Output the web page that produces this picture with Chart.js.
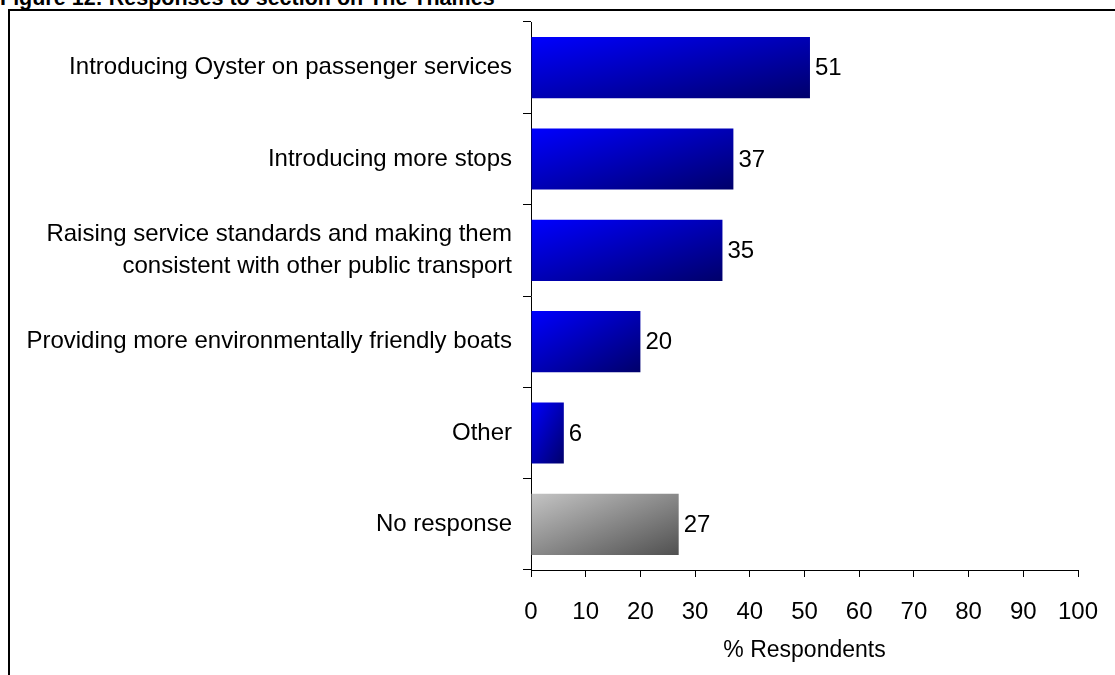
<!DOCTYPE html>
<html>
<head>
<meta charset="utf-8">
<script src="https://cdn.jsdelivr.net/npm/chart.js@4.4.1/dist/chart.umd.min.js"></script>
<style>
    html, body {
        margin: 0;
        padding: 0;
        width: 1115px;
        height: 675px;
        overflow: hidden;
        background: #ffffff;
        font-family: Arial, 'Liberation Sans', sans-serif;
    }
    #title {
        position: absolute;
        left: 0;
        top: -14px;
        font-size: 21.5px;
        font-weight: bold;
        line-height: 24px;
        white-space: nowrap;
        color: #000;
    }
    #frame {
        position: absolute;
        left: 8px;
        top: 9px;
        width: 1200px;
        height: 800px;
        border: 2.5px solid #000;
        box-sizing: border-box;
    }
    #wrap {
        position: absolute;
        left: 0;
        top: 0;
        width: 1115px;
        height: 675px;
    }
</style>
</head>
<body>
<div id="title">Figure 12: Responses to section on The Thames</div>
<div id="frame"></div>
<div id="wrap"><canvas id="chart"></canvas></div>
<script>
const FONT = "Arial, 'Liberation Sans', sans-serif";

const categories = [
    'Introducing Oyster on passenger services',
    'Introducing more stops',
    ['Raising service standards and making them', 'consistent with other public transport'],
    'Providing more environmentally friendly boats',
    'Other',
    'No response'
];
const respondents = [51, 37, 35, 20, 6, 27];
const xTicks = [0, 10, 20, 30, 40, 50, 60, 70, 80, 90, 100];

const BAR_FRACTION = 0.67;

// Excel-style diagonal fill: light top-left to dark bottom-right
function diagonalFill(context) {
    const chart = context.chart;
    const xScale = chart.scales.x;
    const yScale = chart.scales.y;
    const isGrey = context.dataIndex === categories.length - 1;
    const light = isGrey ? '#c4c4c4' : '#0000ff';
    const dark = isGrey ? '#505050' : '#00006a';
    if (!chart.chartArea || !xScale || !yScale || context.type !== 'data') {
        return light;
    }
    const value = respondents[context.dataIndex];
    const x0 = xScale.getPixelForValue(0);
    const x1 = xScale.getPixelForValue(value);
    const step = (yScale.bottom - yScale.top) / categories.length;
    const h = step * BAR_FRACTION;
    const y0 = yScale.getPixelForValue(context.dataIndex) - h / 2;
    const w = Math.max(1, x1 - x0);
    const k = (2 * w * h) / (w * w + h * h);
    const grad = chart.ctx.createLinearGradient(x0, y0, x0 + k * h, y0 + k * w);
    grad.addColorStop(0, light);
    grad.addColorStop(1, dark);
    return grad;
}

const valueLabels = {
    id: 'valueLabels',
    afterDatasetsDraw(chart) {
        const ctx = chart.ctx;
        const meta = chart.getDatasetMeta(0);
        ctx.save();
        ctx.font = `24px ${FONT}`;
        ctx.fillStyle = '#000';
        ctx.textAlign = 'left';
        ctx.textBaseline = 'middle';
        meta.data.forEach((bar, i) => {
            ctx.fillText(String(respondents[i]), bar.x + 5, bar.y + 1);
        });
        ctx.restore();
    }
};

new Chart(document.getElementById('chart'), {
    type: 'bar',
    data: {
        labels: categories,
        datasets: [{
            data: respondents,
            backgroundColor: diagonalFill,
            borderWidth: 0,
            barPercentage: BAR_FRACTION,
            categoryPercentage: 1
        }]
    },
    options: {
        indexAxis: 'y',
        responsive: true,
        maintainAspectRatio: false,
        animation: false,
        devicePixelRatio: 1,
        layout: {
            padding: { left: 0, right: 37, top: 22, bottom: 0 }
        },
        plugins: {
            legend: { display: false },
            tooltip: { enabled: false }
        },
        scales: {
            x: {
                min: 0,
                max: 100,
                afterBuildTicks: (scale) => {
                    scale.ticks = xTicks.map((v) => ({ value: v }));
                },
                afterFit: (scale) => {
                    scale.height = 105;
                    scale.paddingLeft = 0;
                    scale.paddingRight = 0;
                },
                border: { display: true, color: '#000', width: 1 },
                grid: {
                    drawOnChartArea: false,
                    drawTicks: true,
                    tickLength: 7,
                    color: '#000'
                },
                ticks: {
                    color: '#000',
                    font: { family: FONT, size: 24 },
                    padding: 21,
                    maxRotation: 0,
                    autoSkip: false
                },
                title: {
                    display: true,
                    text: '% Respondents',
                    color: '#000',
                    font: { family: FONT, size: 23 },
                    padding: { top: 4, bottom: 11 }
                }
            },
            y: {
                afterFit: (scale) => {
                    scale.width = 531;
                    scale.paddingTop = 0;
                    scale.paddingBottom = 0;
                },
                border: { display: true, color: '#000', width: 1 },
                grid: {
                    offset: true,
                    drawOnChartArea: false,
                    drawTicks: true,
                    tickLength: 8,
                    color: '#000'
                },
                ticks: {
                    color: '#000',
                    font: { family: FONT, size: 24, lineHeight: 1.35 },
                    padding: 11,
                    autoSkip: false
                }
            }
        }
    },
    plugins: [valueLabels]
});
</script>
</body>
</html>
